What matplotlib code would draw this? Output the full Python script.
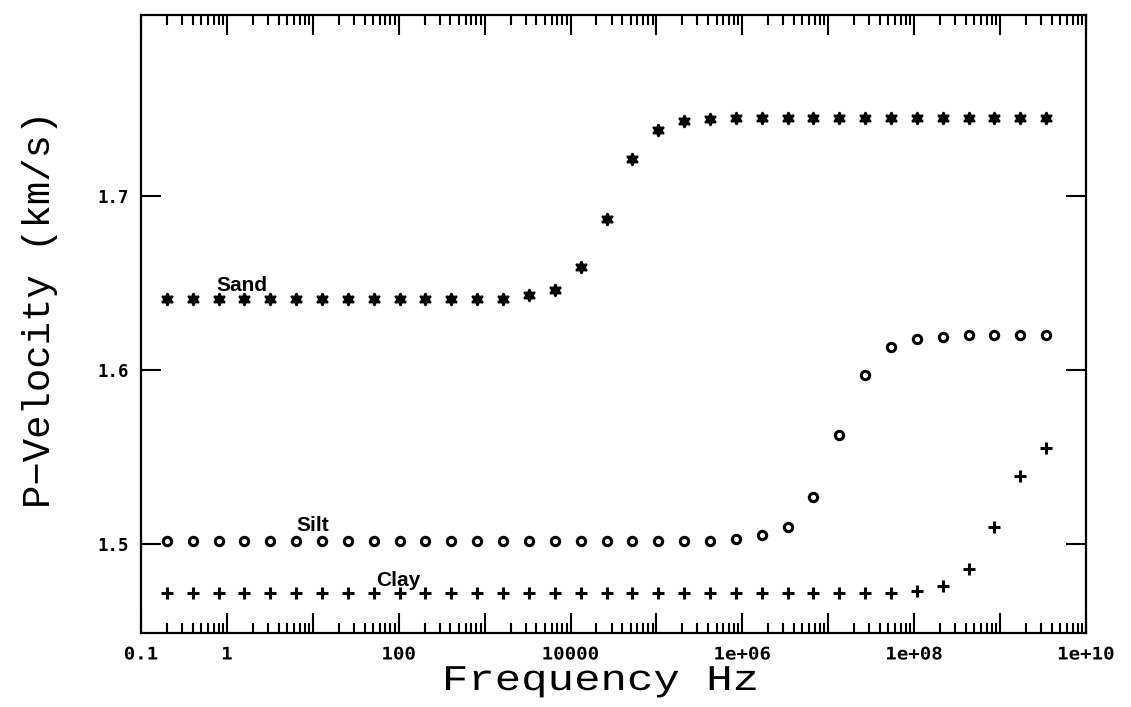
import matplotlib
matplotlib.use("Agg")
import matplotlib.pyplot as plt
from matplotlib.patheffects import AbstractPathEffect
from matplotlib.ticker import FixedLocator, FixedFormatter, LogLocator, NullFormatter
from matplotlib.transforms import Affine2D

# frequencies (Hz), doubling from 0.2 Hz
freq_hz = [0.2, 0.4, 0.8, 1.6, 3.2, 6.4, 12.8, 25.6, 51.2, 102.4,
           204.8, 409.6, 819.2, 1638.4, 3276.8, 6553.6, 13107.2, 26214.4,
           52428.8, 104857.6, 209715.2, 419430.4, 838860.8, 1677721.6,
           3355443.2, 6710886.4, 13421772.8, 26843545.6, 53687091.2,
           107374182.4, 214748364.8, 429496729.6, 858993459.2,
           1717986918.4, 3435973836.8]

# P-wave velocity (km/s) per sediment type
sand_vp = [1.641] * 14 + [1.643, 1.646, 1.659, 1.687, 1.721, 1.738, 1.743, 1.744] + [1.745] * 13
silt_vp = [1.502] * 22 + [1.503, 1.505, 1.510, 1.527, 1.563, 1.597, 1.613, 1.618, 1.619] + [1.620] * 4
clay_vp = [1.472] * 29 + [1.473, 1.476, 1.486, 1.510, 1.539, 1.555]

decades = [0.1, 1, 10, 100, 1e3, 1e4, 1e5, 1e6, 1e7, 1e8, 1e9, 1e10]
decade_text = ["0.1", "1", "", "100", "", "10000", "", "1e+06", "", "1e+08", "", "1e+10"]
ytick_vals = [1.5, 1.6, 1.7]
ytick_text = ["1.5", "1.6", "1.7"]


class TextStretch(AbstractPathEffect):
    """Widen glyphs along the text direction, keeping the text centred."""

    def __init__(self, along=1.0):
        super().__init__()
        self.along = along

    def draw_path(self, renderer, gc, tpath, affine, rgbFace=None):
        ext = tpath.get_extents()
        cx = 0.5 * (ext.x0 + ext.x1)
        stretch = Affine2D().translate(-cx, 0).scale(self.along, 1.0).translate(cx, 0)
        renderer.draw_path(gc, tpath, stretch + affine, rgbFace)


fig = plt.figure(figsize=(11.31, 7.07), dpi=100)
ax = fig.add_axes([0.1247, 0.1047, 0.8355, 0.8741])

ax.plot(freq_hz, sand_vp, ls="none", marker=(6, 1, 0), ms=9, mfc="black",
        mec="black", mew=1.4)
ax.plot(freq_hz, silt_vp, ls="none", marker="o", ms=6, mfc="none",
        mec="black", mew=2.2)
ax.plot(freq_hz, clay_vp, ls="none", marker="+", ms=9, mec="black", mew=2.2)

ax.set_xscale("log")
ax.set_xlim(0.1, 1e10)
ax.set_ylim(1.449, 1.804)

ax.xaxis.set_major_locator(FixedLocator(decades))
ax.xaxis.set_major_formatter(FixedFormatter(decade_text))
ax.xaxis.set_minor_locator(LogLocator(base=10, subs=range(2, 10), numticks=50))
ax.xaxis.set_minor_formatter(NullFormatter())
ax.set_yticks(ytick_vals)
ax.set_yticklabels(ytick_text)

ax.tick_params(which="both", direction="in", top=True, right=True, width=1.5)
ax.tick_params(which="major", length=14.5, pad=9)
ax.tick_params(which="minor", length=7)
for lbl in ax.get_xticklabels() + ax.get_yticklabels():
    lbl.set_family("DejaVu Sans Mono")
    lbl.set_fontweight("bold")
    lbl.set_fontsize(12.5)
for lbl in ax.get_xticklabels():
    lbl.set_path_effects([TextStretch(along=1.1)])

for sp in ax.spines.values():
    sp.set_linewidth(1.6)

ax.set_xlabel("Frequency Hz", family="Liberation Mono", fontsize=26,
              va="baseline", ha="center",
              path_effects=[TextStretch(along=1.22)])
ax.set_ylabel("P\u2212Velocity (km/s)", family="Liberation Mono", fontsize=28,
              va="baseline", ha="center", rotation_mode="anchor")
ax.xaxis.set_label_coords(0.486, -0.0922)
ax.yaxis.set_label_coords(-0.0963, 0.524)

label_font = dict(family="Liberation Sans", fontweight="bold", fontsize=15,
                  ha="center", va="center")
ax.text(1.5, 1.6485, "Sand", **label_font)
ax.text(10, 1.511, "Silt", **label_font)
ax.text(100, 1.479, "Clay", **label_font)

fig.savefig("out.png", dpi=100)
